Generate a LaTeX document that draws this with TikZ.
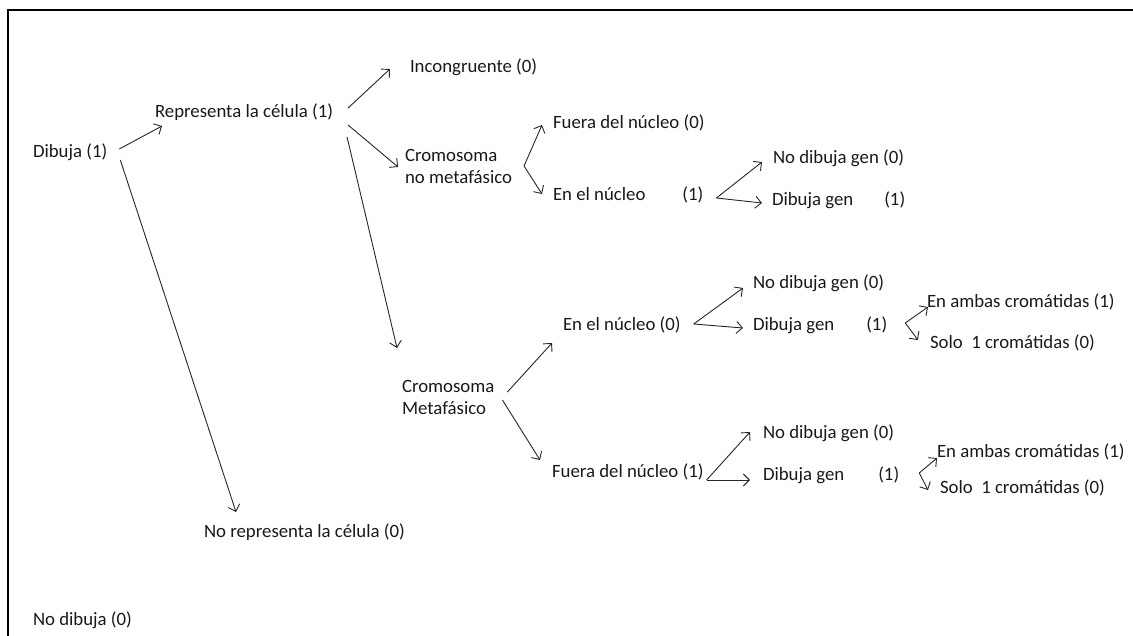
\documentclass[tikz,border=0pt]{standalone}
\usepackage{fontspec}
\setmainfont{Carlito}
\usetikzlibrary{arrows.meta,calc}

\begin{document}
\begin{tikzpicture}[x=1pt,y=-1pt]
\tikzstyle{txt}=[anchor=west,inner sep=0pt,outer sep=0pt,
text=black!90,font=\fontsize{18.8}{22}\selectfont,align=left]
\tikzstyle{flecha}=[-{Straight Barb[length=6pt,width=12pt]},line width=0.9pt,black!85]
\useasboundingbox (0,0) rectangle (1133,635);
% marco
\draw[line width=2pt] (8,636) -- (8,9.5) -- (1134,9.5);

\node[txt] at (33,152) (dib) {Dibuja (1)};
\node[txt] at (155,112) (rep) {Representa la célula (1)};
\node[txt] at (204,532) (nrep) {No representa la célula (0)};
\node[txt] at (33,620) (nodib) {No dibuja (0)};
\node[txt] at (410,67) (inc) {Incongruente (0)};
\node[txt] at (405,166) (cnm) {Cromosoma\\no metafásico};
\node[txt] at (402,397) (cm) {Cromosoma\\Metafásico};

% cromosoma no metafasico
\node[txt] at (553,123) (fue0) {Fuera del núcleo (0)};
\node[txt] at (553,195) (enn1) {En el núcleo\hspace{37pt}(1)};
\node[txt] at (773,158) (ndg1) {No dibuja gen (0)};
\node[txt] at (772,200) (dg1) {Dibuja gen\hspace{31pt}(1)};

% cromosoma metafasico
\node[txt] at (563,325) (enn0) {En el núcleo (0)};
\node[txt] at (753,283) (ndg2) {No dibuja gen (0)};
\node[txt] at (753,325) (dg2) {Dibuja gen\hspace{32pt}(1)};
\node[txt] at (927,302) (amb2) {En ambas cromátidas (1)};
\node[txt] at (930,343) (solo2) {Solo\ \ 1 cromátidas (0)};

\node[txt] at (552,472) (fue1) {Fuera del núcleo (1)};
\node[txt] at (763,433) (ndg3) {No dibuja gen (0)};
\node[txt] at (763,475) (dg3) {Dibuja gen\hspace{34pt}(1)};
\node[txt] at (937,452) (amb3) {En ambas cromátidas (1)};
\node[txt] at (940,488) (solo3) {Solo\ \ 1 cromátidas (0)};

% vertices
\coordinate (v1) at ($(cnm.east)+(12,0)$);
\coordinate (v2) at ($(enn1.east)+(13,3)$);
\coordinate (v3) at ($(enn0.east)+(13,-1)$);
\coordinate (v4) at ($(dg2.east)+(18,-2)$);
\coordinate (v5) at ($(fue1.east)+(3,8)$);
\coordinate (v6) at ($(dg3.east)+(20,-2)$);

\draw[flecha] ($(dib.east)+(12,-3)$) -- ($(rep.west)+(7,14)$);
\draw[flecha] ($(dib.east)+(13,8)$) -- ($(nrep.west)+(32,-20)$);
\draw[flecha] ($(rep.east)+(15,-4)$) -- ($(inc.west)+(-20,2)$);
\draw[flecha] ($(rep.east)+(15,13)$) -- ($(cnm.west)+(-7,1)$);
\draw[flecha] ($(rep.east)+(14,25)$) -- ($(cm.west)+(-5,-49)$);

\draw[flecha] (v1) -- ($(fue0.west)+(-11,2)$);
\draw[flecha] (v1) -- ($(enn1.west)+(-11,-1)$);
\draw[flecha] (v2) -- ($(ndg1.west)+(-11,4)$);
\draw[flecha] (v2) -- ($(dg1.west)+(-10,3)$);

\draw[flecha] ($(cm.east)+(13,-5)$) -- ($(enn0.west)+(-11,18)$);
\draw[flecha] ($(cm.east)+(8,3)$) -- ($(fue1.west)+(-12,-12)$);
\draw[flecha] (v3) -- ($(ndg2.west)+(-10,5)$);
\draw[flecha] (v3) -- ($(dg2.west)+(-10,3)$);
\draw[flecha] (v4) -- ($(amb2.west)+(1,5)$);
\draw[flecha] (v4) -- ($(solo2.west)+(-12,-3)$);
\draw[flecha] (v5) -- ($(ndg3.west)+(-13,-1)$);
\draw[flecha] (v5) -- ($(dg3.west)+(-13,5)$);
\draw[flecha] (v6) -- ($(amb3.west)+(0,6)$);
\draw[flecha] (v6) -- ($(solo3.west)+(-12,2)$);
\end{tikzpicture}
\end{document}
